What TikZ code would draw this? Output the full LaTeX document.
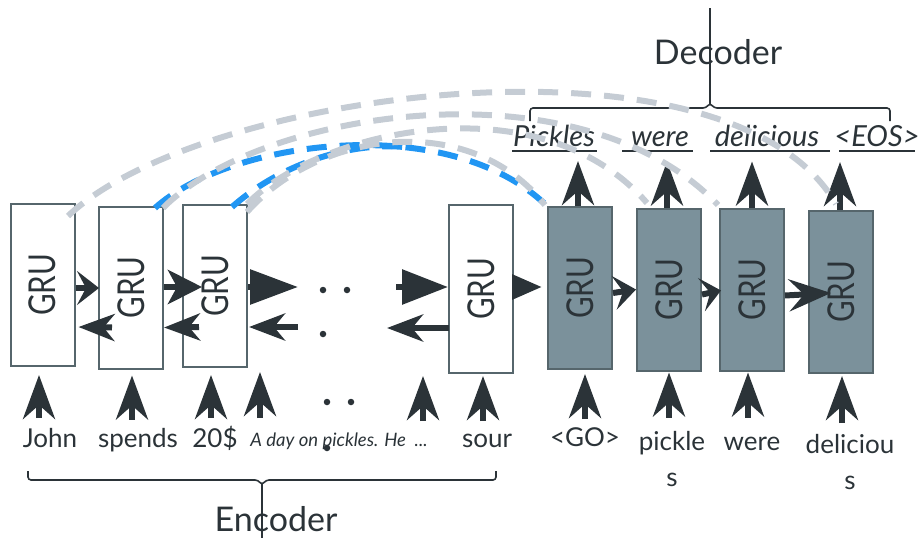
\documentclass[tikz,border=0pt]{standalone}
\usepackage{fontspec}
\setmainfont{Lato}
\usetikzlibrary{arrows.meta,calc}
\definecolor{ink}{HTML}{2B3338}
\definecolor{boxline}{HTML}{56666C}
\definecolor{decfill}{HTML}{7B919B}
\definecolor{attgray}{HTML}{C5CCD4}
\definecolor{attblue}{HTML}{2196F3}
\begin{document}
\begin{tikzpicture}[x=1pt,y=-1pt,
  gru/.style={draw=boxline,line width=2pt,minimum width=64pt,minimum height=162pt,inner sep=0pt,
    text=ink,font=\fontsize{37}{37}\selectfont},
  encbox/.style={gru,fill=white},
  decbox/.style={gru,fill=decfill},
  word/.style={text=ink,font=\fontsize{26}{36}\selectfont,inner sep=0pt,anchor=base},
  outword/.style={text=ink,font=\fontsize{29}{30}\selectfont\itshape,inner sep=0pt,anchor=base},
  uparrow/.style={draw=ink,line width=6pt,-{Stealth[length=44pt,width=32pt,inset=14pt]}},
  fwdarrow/.style={draw=ink,line width=6pt,-{Stealth[length=#1,width=34pt,inset=9pt]}},
  backarrow/.style={draw=ink,line width=6pt,-{Stealth[length=36pt,width=27pt,inset=11pt]}},
  solidarrow/.style={draw=ink,line width=6pt,-{Triangle[length=#1,width=34pt]}},
  attn/.style={line width=6pt,dash pattern=on 20pt off 13pt},
  brace/.style={draw=ink,line width=1.6pt,rounded corners=3pt},
  dot/.style={circle,fill=ink,inner sep=0pt,minimum size=6.5pt}]
\useasboundingbox (0,0) rectangle (919,538);

% encoder cells
\node[encbox] (e1) at (42.5,285) {\rotatebox{90}{\scalebox{0.8}[1]{GRU}}};
\node[encbox] (e2) at (131,287.5) {\rotatebox{90}{\scalebox{0.8}[1]{GRU}}};
\node[encbox] (e3) at (215,286) {\rotatebox{90}{\scalebox{0.8}[1]{GRU}}};
\node[encbox,minimum height=168pt] (e4) at (481,289) {\rotatebox{90}{\scalebox{0.8}[1]{GRU}}};
% decoder cells
\node[decbox] (d1) at (580,288) {\rotatebox{90}{\scalebox{0.8}[1]{GRU}}};
\node[decbox] (d2) at (669,289.5) {\rotatebox{90}{\scalebox{0.8}[1]{GRU}}};
\node[decbox] (d3) at (752,289.5) {\rotatebox{90}{\scalebox{0.8}[1]{GRU}}};
\node[decbox] (d4) at (841,292) {\rotatebox{90}{\scalebox{0.8}[1]{GRU}}};

% encoder inputs
\node[word] (wjohn) at (50,447) {John};
\node[word] (wspends) at (138,447) {spends};
\node[word] (w20) at (215,447) {20\$};
\node[word,font=\fontsize{18.5}{20}\selectfont\itshape] (wday) at (339,446) {A day on pickles. He \ ...};
\node[word] (wsour) at (487,447) {sour};
% decoder inputs
\node[word] (wgo) at (585,446) {<GO>};
\node[word,align=center,anchor=north] (wpickles) at (672,431) {pickle\\s};
\node[word] (wwere) at (752,450) {were};
\node[word,align=center,anchor=north] (wdelicious) at (850,434) {deliciou\\s};

% decoder outputs
\node[outword] (opickles) at (554,146) {Pickles};
\node[outword] (owere) at (660,146) {were};
\node[outword] (odelicious) at (767,146) {delicious};
\node[outword] (oeos) at (877,146) {<EOS>};
\draw[ink,line width=2.5pt] (512,151) -- (597,151) (622,151) -- (693,151)
  (710,151) -- (830,151) (839,151) -- (915,151);

% titles
\node[word,font=\fontsize{34}{36}\selectfont] (tdec) at (718,64) {Decoder};
\node[word,font=\fontsize{34}{36}\selectfont] (tenc) at (276,531) {Encoder};
\coordinate (dectop) at (710,8);
\coordinate (encbot) at (262,538);
\draw[brace] (530,121) -- (530,108) -- (706,108) -- (710,103) -- (714,108) -- (890,108) -- (890,121);
\draw[ink,line width=1.4pt] (710,104) -- (dectop);
\draw[brace] (28,471) -- (28,480) -- (258,480) -- (262,485) -- (266,480) -- (496,480) -- (496,471);
\draw[ink,line width=1.4pt] (262,484) -- (encbot);

% ellipsis dots
\node[dot] (dt1) at (323,290) {};
\node[dot] (dt2) at (347,290) {};
\node[dot] (dt3) at (323,334) {};
\node[dot] (dt4) at (327,402) {};
\node[dot] (dt5) at (351,402) {};
\node[dot] (dt6) at (327,448) {};

% recurrent connections, encoder
\draw[fwdarrow=22pt] ([yshift=-3pt]e1.east) -- ([yshift=-0.5pt,xshift=1pt]e2.west);
\draw[backarrow] ([xshift=14pt,yshift=-40pt]e2.west) -- ([xshift=3pt,yshift=-42pt]e1.east);
\draw[fwdarrow=34pt] ([yshift=0.5pt]e2.east) -- ([xshift=20pt,yshift=-1pt]e3.west);
\draw[backarrow] ([xshift=17pt,yshift=-41pt]e3.west) -- ([yshift=-40pt]e2.east);
\draw[solidarrow=48pt] ([yshift=-1pt]e3.east) -- ([xshift=50pt,yshift=-1pt]e3.east);
\draw[backarrow] ([xshift=50pt,yshift=-41pt]e3.east) -- ([xshift=1pt,yshift=-41pt]e3.east);
\draw[solidarrow=46pt] ([xshift=-52pt,yshift=2pt]e4.west) -- ([yshift=2pt]e4.west);
\draw[backarrow] ([xshift=1pt,yshift=-39pt]e4.west) -- ([xshift=-61pt,yshift=-39pt]e4.west);
\draw[draw=ink,line width=6pt,-{Triangle[length=30pt,width=24pt]}] ([yshift=2pt]e4.east) -- ([xshift=-5pt,yshift=1pt]d1.west);
% recurrent connections, decoder
\draw[fwdarrow=22pt] ([yshift=-5pt]d1.east) -- ([yshift=0pt]d2.west);
\draw[fwdarrow=20pt] ([yshift=-5pt]d2.east) -- ([xshift=2pt,yshift=-1pt]d3.west);
\draw[draw=ink,line width=6pt,-{Stealth[length=42pt,width=32pt,inset=15pt]}] ([yshift=-6pt]d3.east) -- ([xshift=23pt,yshift=-1pt]d4.west);

% inputs into the cells
\draw[uparrow] ([xshift=-3.5pt,yshift=-51pt]e1.south) -- ([xshift=-3.5pt,yshift=-8pt]e1.south);
\draw[uparrow] ([xshift=1pt,yshift=-50pt]e2.south) -- ([xshift=1pt,yshift=-6pt]e2.south);
\draw[uparrow] ([xshift=-4pt,yshift=-50pt]e3.south) -- ([xshift=-4pt,yshift=-7pt]e3.south);
\draw[uparrow] ([xshift=45pt,yshift=-50pt]e3.south) -- ([xshift=45pt,yshift=-4pt]e3.south);
\draw[uparrow] ([xshift=-58pt,yshift=-47pt]e4.south) -- ([xshift=-58pt,yshift=-2pt]e4.south);
\draw[uparrow] ([xshift=2pt,yshift=-47pt]e4.south) -- ([xshift=2pt,yshift=-2pt]e4.south);
\draw[uparrow] ([xshift=5pt,yshift=-49pt]d1.south) -- ([xshift=5pt,yshift=-4pt]d1.south);
\draw[uparrow] ([yshift=-46pt]d2.south) -- ([yshift=-1pt]d2.south);
\draw[uparrow] ([xshift=-4pt,yshift=-46pt]d3.south) -- ([xshift=-4pt,yshift=-1pt]d3.south);
\draw[uparrow] ([xshift=1pt,yshift=-49pt]d4.south) -- ([xshift=1pt,yshift=-2pt]d4.south);
% outputs of the decoder
\draw[uparrow] ([xshift=-2pt]d1.north) -- ([xshift=-2pt,yshift=45pt]d1.north);
\draw[uparrow] ([xshift=-2pt]d2.north) -- ([xshift=-2pt,yshift=46pt]d2.north);
\draw[uparrow] (d3.north) -- ([yshift=46pt]d3.north);
\draw[uparrow] ([xshift=-1pt]d4.north) -- ([xshift=-1pt,yshift=48pt]d4.north);

% attention links
\coordinate (g1a) at (68,216);  \coordinate (g1b) at (836,204);
\coordinate (g2a) at (163,208); \coordinate (g2b) at (718,205);
\coordinate (g3a) at (247,204); \coordinate (g3b) at (647,203);
\coordinate (g4a) at (247,212); \coordinate (g4b) at (545,205);
\coordinate (b1a) at (155,208); \coordinate (b1b) at (548,207);
\coordinate (b2a) at (232,207); \coordinate (b2m) at (412,148);
\draw[attn,attblue] (b1a) .. controls (230,140) and (450,110) .. (b1b);
\draw[attn,attblue] (b2a) .. controls (285,160) and (360,140) .. (b2m);
\draw[attn,attgray] (g1a) .. controls (200,90) and (730,20) .. (g1b);
\draw[attn,attgray] (g2a) .. controls (260,110) and (580,60) .. (g2b);
\draw[attn,attgray] (g3a) .. controls (320,130) and (540,80) .. (g3b);
\draw[attn,attgray] (g4a) .. controls (320,130) and (470,110) .. (g4b);
\end{tikzpicture}
\end{document}
